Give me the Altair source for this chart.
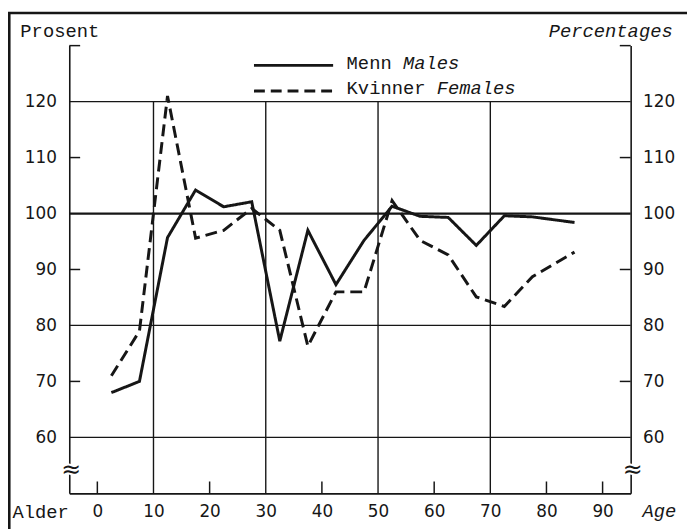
import altair as alt
import pandas as pd

# ---------------- data ----------------
ages = [2.5, 7.5, 12.5, 17.5, 22.5, 27.5, 32.5, 37.5, 42.5, 47.5,
        52.5, 57.5, 62.5, 67.5, 72.5, 77.5, 85.0]
males = [68.0, 70.0, 95.7, 104.2, 101.2, 102.1, 77.2, 97.0, 87.3, 95.2,
         101.3, 99.5, 99.3, 94.3, 99.6, 99.4, 98.4]
females = [71.0, 79.0, 121.0, 95.6, 97.0, 100.9, 97.0, 76.3, 86.0, 86.0,
           102.3, 95.2, 92.6, 85.1, 83.4, 88.7, 93.1]
series_no = ["Menn", "Kvinner"]
series_en = ["Males", "Females"]

x_label_values = [0, 10, 20, 30, 40, 50, 60, 70, 80, 90]
y_label_values = [60, 70, 80, 90, 100, 110, 120]
x_grid_values = [10, 30, 50, 70]
x_short_ticks = [0, 20, 40, 60, 80, 90]
y_grid_values = [60, 80, 100, 120]
y_short_ticks = [70, 90, 110, 130]
break_positions = [-5, 95]

X_DOMAIN = [-5, 95]
Y_DOMAIN = [50, 130]

# ---------------- styling ----------------
INK = "#161616"
MONO = "Liberation Mono"
NUM = "DejaVu Sans"
W, H = 568, 453
PX_X = W / (X_DOMAIN[1] - X_DOMAIN[0])
PX_Y = H / (Y_DOMAIN[1] - Y_DOMAIN[0])

df = pd.DataFrame({
    "age": ages + ages,
    "value": males + females,
    "series": [series_no[0]] * len(ages) + [series_no[1]] * len(ages),
})
one = pd.DataFrame({"a": [0]})

xsc = alt.Scale(domain=X_DOMAIN, nice=False, zero=False)
ysc = alt.Scale(domain=Y_DOMAIN, nice=False, zero=False)

x_axis = alt.Axis(
    values=x_label_values, grid=False, ticks=False, tickSize=0,
    domain=True, domainColor=INK, domainWidth=1.6,
    labelFont=NUM, labelFontSize=17, labelColor=INK, labelPadding=10,
    labelFlush=False, labelOverlap=False,
    title="Alder", titleFont=MONO, titleFontSize=19, titleFontWeight="normal",
    titleColor=INK, titleX=-58, titleY=24, titleAlign="left",
    titleBaseline="alphabetic", titleAngle=0,
)
y_axis_left = alt.Axis(
    values=y_label_values, grid=False, ticks=False, tickSize=0,
    domain=True, domainColor=INK, domainWidth=1.6,
    labelFont=NUM, labelFontSize=17, labelColor=INK, labelPadding=13,
    labelOverlap=False,
    title="Prosent", titleFont=MONO, titleFontSize=19, titleFontWeight="normal",
    titleColor=INK, titleAngle=0, titleX=-50, titleY=-9, titleAlign="left",
    titleBaseline="alphabetic",
)
y_axis_right = alt.Axis(
    orient="right", values=y_label_values, grid=False, ticks=False, tickSize=0,
    domain=True, domainColor=INK, domainWidth=1.6,
    labelFont=NUM, labelFontSize=17, labelColor=INK, labelPadding=12,
    labelOverlap=False,
    title="Percentages", titleFont=MONO, titleFontSize=19, titleFontWeight="normal",
    titleFontStyle="italic",
    titleColor=INK, titleAngle=0, titleX=42, titleY=-9, titleAlign="right",
    titleBaseline="alphabetic",
)

# data lines (these carry the left and bottom axes)
lines = alt.Chart(df).mark_line(color=INK, strokeWidth=3, strokeJoin="miter").encode(
    x=alt.X("age:Q", scale=xsc, axis=x_axis),
    y=alt.Y("value:Q", scale=ysc, axis=y_axis_left),
    strokeDash=alt.StrokeDash(
        "series:N",
        scale=alt.Scale(domain=series_no, range=[[1, 0], [12, 6]]),
        legend=None,
    ),
    order=alt.Order("age:Q"),
)

# horizontal gridlines (100 drawn heavier)
hgrid = alt.Chart(pd.DataFrame({"v": y_grid_values})).mark_rule(color=INK).encode(
    y=alt.Y("v:Q", scale=ysc),
    strokeWidth=alt.condition("datum.v == 100", alt.value(2.3), alt.value(1.3)),
)
# vertical gridlines up to 120
vgrid = alt.Chart(pd.DataFrame({"v": x_grid_values})).mark_rule(color=INK, strokeWidth=1.4).encode(
    x=alt.X("v:Q", scale=xsc),
    y=alt.YDatum(Y_DOMAIN[0], scale=ysc),
    y2=alt.Y2Datum(120),
)
# inward short ticks on the bottom axis
bticks = alt.Chart(pd.DataFrame({"v": x_short_ticks})).mark_rule(color=INK, strokeWidth=1.5).encode(
    x=alt.X("v:Q", scale=xsc),
    y=alt.YDatum(Y_DOMAIN[0], scale=ysc),
    y2=alt.Y2Datum(Y_DOMAIN[0] + 12 / PX_Y),
)
# inward short ticks on the left axis
lticks = alt.Chart(pd.DataFrame({"v": y_short_ticks})).mark_rule(color=INK, strokeWidth=1.5).encode(
    y=alt.Y("v:Q", scale=ysc),
    x=alt.XDatum(X_DOMAIN[0], scale=xsc),
    x2=alt.X2Datum(X_DOMAIN[0] + 11 / PX_X),
)

# axis-break marks
brk_bg = alt.Chart(pd.DataFrame({"v": break_positions})).mark_text(
    text="≈", font=NUM, fontSize=24, color="white", stroke="white", strokeWidth=4, dx=2
).encode(x=alt.X("v:Q", scale=xsc), y=alt.YDatum(54.2, scale=ysc))
brk = alt.Chart(pd.DataFrame({"v": break_positions})).mark_text(
    text="≈", font=NUM, fontSize=24, color=INK, dx=2
).encode(x=alt.X("v:Q", scale=xsc), y=alt.YDatum(54.2, scale=ysc))

# hand-drawn legend
legend_layers = []
legend_rows = [(series_no[0], series_en[0], 126.47, 125.76, [1, 0]),
               (series_no[1], series_en[1], 121.88, 121.35, [11, 6])]
for no, en, ly, ty, dash in legend_rows:
    legend_layers.append(
        alt.Chart(one).mark_rule(color=INK, strokeWidth=3, strokeDash=dash).encode(
            x=alt.XDatum(27.9, scale=xsc), x2=alt.X2Datum(42.0),
            y=alt.YDatum(ly, scale=ysc),
        )
    )
    legend_layers.append(
        alt.Chart(one).mark_text(text=no, font=MONO, fontSize=19, color=INK,
                                 align="left", baseline="alphabetic").encode(
            x=alt.XDatum(44.4, scale=xsc),
            y=alt.YDatum(ty, scale=ysc),
        )
    )
    legend_layers.append(
        alt.Chart(one).mark_text(text=en, font=MONO, fontSize=19, fontStyle="italic",
                                 color=INK, align="left", baseline="alphabetic",
                                 dx=(len(no) + 1) * 0.6 * 19).encode(
            x=alt.XDatum(44.4, scale=xsc),
            y=alt.YDatum(ty, scale=ysc),
        )
    )

# "Age" label at the bottom right
age_lbl = alt.Chart(one).mark_text(text="Age", font=MONO, fontSize=19, fontStyle="italic",
                                   color=INK, align="left", baseline="alphabetic",
                                   dx=12, dy=24).encode(
    x=alt.XDatum(X_DOMAIN[1], scale=xsc),
    y=alt.YDatum(Y_DOMAIN[0], scale=ysc),
)

# outer frame (top and left edges)
frame_top = alt.Chart(one).mark_rule(color=INK, strokeWidth=2.6).encode(
    x=alt.value(-62), x2=alt.value(640), y=alt.value(-33)
)
frame_left = alt.Chart(one).mark_rule(color=INK, strokeWidth=2.6).encode(
    x=alt.value(-60.7), y=alt.value(-34), y2=alt.value(500)
)

inner = alt.layer(
    lines, hgrid, vgrid, bticks, lticks, brk_bg, brk, *legend_layers, age_lbl,
    frame_top, frame_left,
)

# right axis layer: inward ticks on the right with its own (identical) y scale
right = alt.Chart(pd.DataFrame({"v": y_short_ticks})).mark_rule(color=INK, strokeWidth=1.5).encode(
    y=alt.Y("v:Q", scale=alt.Scale(domain=Y_DOMAIN, nice=False, zero=False), axis=y_axis_right),
    x=alt.XDatum(X_DOMAIN[1] - 11 / PX_X, scale=xsc),
    x2=alt.X2Datum(X_DOMAIN[1]),
)

chart = alt.layer(inner, right).resolve_scale(y="independent").properties(
    width=W, height=H,
    autosize=alt.AutoSizeParams(type="none"),
    padding={"left": 62, "top": 35, "right": 57, "bottom": 33},
    background="white",
).configure_view(stroke=None)

chart.save("out.html", embed_options={"renderer": "svg", "actions": False})
